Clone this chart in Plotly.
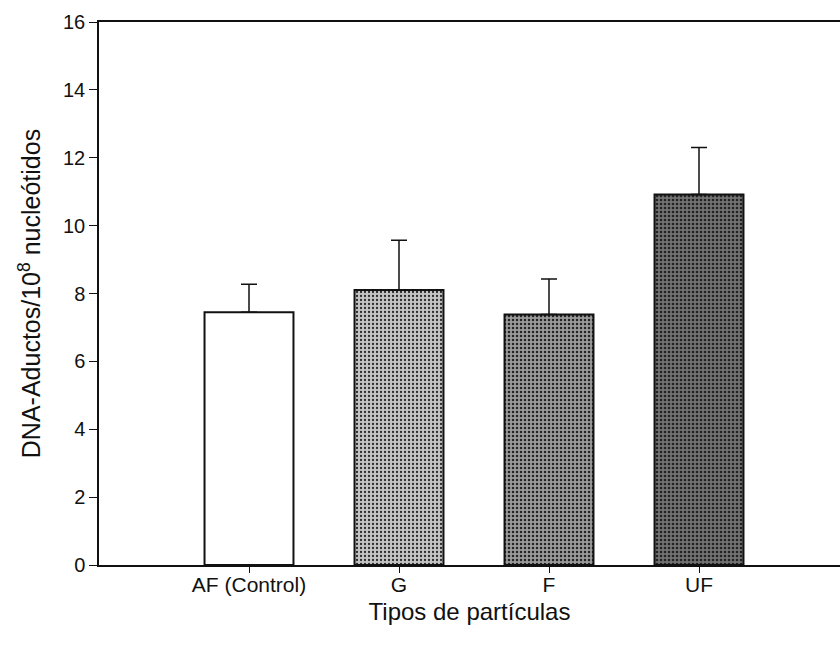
import plotly.graph_objects as go

categories = ["AF (Control)", "G", "F", "UF"]
positions = [1, 2, 3, 4]
means = [7.45, 8.1, 7.38, 10.92]
err_plus = [0.82, 1.47, 1.05, 1.38]

base_colors = ["#ffffff", "#c4c4c4", "#9a9a9a", "#727272"]
dot_colors = ["#ffffff", "#2a2a2a", "#222222", "#222222"]
shapes = ["", ".", ".", "."]
sizes = [6, 4, 4, 4]
solid = [0.2, 0.25, 0.3, 0.33]

fig = go.Figure()
for i in range(len(categories)):
    fig.add_trace(go.Bar(
        x=[positions[i]], y=[means[i]], width=0.593,
        marker=dict(
            color=base_colors[i],
            line=dict(color="#111111", width=2),
            pattern=dict(shape=shapes[i], fgcolor=dot_colors[i], fgopacity=1,
                         bgcolor=base_colors[i],
                         size=sizes[i], solidity=solid[i], fillmode="replace"),
        ),
        error_y=dict(type="data", symmetric=False, array=[err_plus[i]],
                     arrayminus=[0], color="#111111", thickness=1.5, width=8),
        showlegend=False,
    ))

font = "Liberation Sans, Arial, sans-serif"
fig.update_layout(
    width=840, height=654,
    margin=dict(l=99, r=0, t=22, b=89),
    paper_bgcolor="white", plot_bgcolor="white",
    barmode="overlay",
    font=dict(family=font, color="#111111", size=20),
    xaxis=dict(range=[0, 4.94], tickvals=positions, ticktext=categories,
               showline=True, linecolor="#111111", linewidth=1.5, mirror=True,
               ticks="outside", ticklen=6, tickcolor="#111111", showgrid=False,
               zeroline=False, tickfont=dict(size=21), ticklabelstandoff=-6,
               title=dict(text="Tipos de partículas", font=dict(size=24), standoff=8)),
    yaxis=dict(range=[0, 16], dtick=2, showline=True, linecolor="#111111",
               linewidth=1.5, ticks="outside", ticklen=8, tickcolor="#111111",
               showgrid=False, zeroline=False, tickfont=dict(size=20),
               title=dict(text="DNA-Aductos/10<sup>8</sup> nucleótidos",
                          font=dict(size=25), standoff=15)),
)

fig.write_html("out.html")
